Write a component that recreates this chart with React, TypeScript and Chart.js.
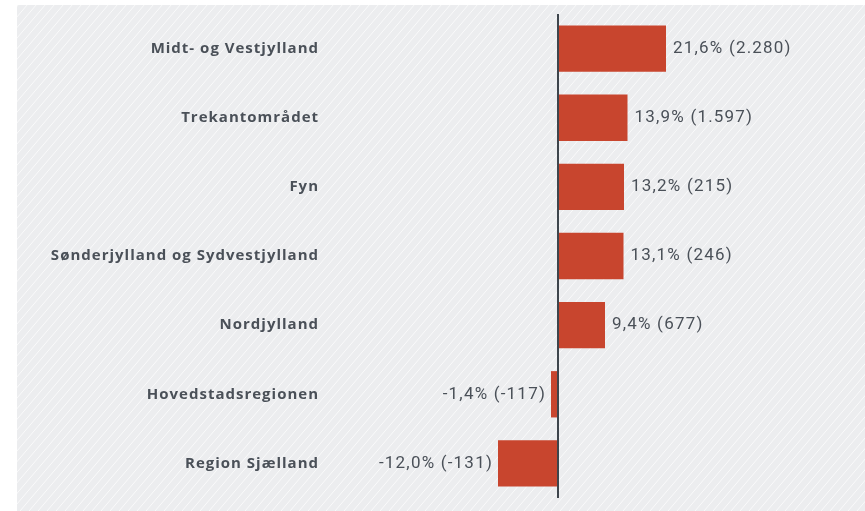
import React, { useEffect, useRef } from "react";
import { Chart, registerables } from "chart.js";

Chart.register(...registerables);

const categories = [
  "Midt- og Vestjylland",
  "Trekantområdet",
  "Fyn",
  "Sønderjylland og Sydvestjylland",
  "Nordjylland",
  "Hovedstadsregionen",
  "Region Sjælland",
];
const percentValues = [21.6, 13.9, 13.2, 13.1, 9.4, -1.4, -12.0];
const countValues = ["2.280", "1.597", "215", "246", "677", "-117", "-131"];

const BAR_COLOR = "#C8452E";
const TEXT_COLOR = "#4A5058";
const AXIS_COLOR = "#3E454C";

const hatchPlugin = {
  id: "hatchBg",
  beforeDraw(chart: any) {
    const { ctx, width, height } = chart;
    const x0 = 17, y0 = 5;
    ctx.save();
    ctx.fillStyle = "#ECEDEF";
    ctx.fillRect(x0, y0, width - x0, height - y0);
    ctx.beginPath();
    ctx.rect(x0, y0, width - x0, height - y0);
    ctx.clip();
    ctx.strokeStyle = "rgba(255,255,255,0.7)";
    ctx.lineWidth = 1;
    const step = 9;
    for (let s = -height; s < width + height; s += step) {
      ctx.beginPath();
      ctx.moveTo(s, height);
      ctx.lineTo(s + height * 0.85, 0);
      ctx.stroke();
    }
    ctx.restore();
    // letter spacing for the category axis labels
    ctx.letterSpacing = "1px";
  },
  beforeDatasetsDraw(chart: any) {
    chart.ctx.letterSpacing = "0px";
  },
};

const valueLabelPlugin = {
  id: "valueLabels",
  afterDatasetsDraw(chart: any) {
    const { ctx } = chart;
    const meta = chart.getDatasetMeta(0);
    ctx.save();
    ctx.font = "17px Roboto";
    ctx.letterSpacing = "1.2px";
    ctx.fillStyle = TEXT_COLOR;
    ctx.textBaseline = "middle";
    meta.data.forEach((bar: any, i: number) => {
      const v = percentValues[i];
      const text = `${v.toFixed(1).replace(".", ",")}% (${countValues[i]})`;
      if (v >= 0) {
        ctx.textAlign = "left";
        ctx.fillText(text, bar.x + 7, bar.y);
      } else {
        ctx.textAlign = "right";
        ctx.fillText(text, bar.x - 5, bar.y);
      }
    });
    ctx.letterSpacing = "0px";
    ctx.restore();
  },
};

export default function App() {
  const ref = useRef<HTMLCanvasElement>(null);
  useEffect(() => {
    if (!ref.current) return;
    const chart = new Chart(ref.current, {
      type: "bar",
      data: {
        labels: categories,
        datasets: [
          {
            data: percentValues,
            backgroundColor: BAR_COLOR,
            borderWidth: 0,
            categoryPercentage: 0.67,
            barPercentage: 1,
          },
        ],
      },
      options: {
        indexAxis: "y",
        animation: false,
        responsive: false,
        maintainAspectRatio: false,
        layout: { padding: { top: 14, bottom: 13, left: 0, right: 17 } },
        plugins: { legend: { display: false }, tooltip: { enabled: false } },
        scales: {
          x: {
            min: -48,
            max: 58,
            ticks: { display: false, stepSize: 2 },
            border: { display: false },
            grid: {
              drawTicks: false,
              lineWidth: 2,
              color: (c: any) => (c.tick && c.tick.value === 0 ? AXIS_COLOR : "rgba(0,0,0,0)"),
            },
            afterFit: (s: any) => {
              s.height = 0;
            },
          },
          y: {
            ticks: {
              padding: -1,
              color: TEXT_COLOR,
              font: { family: "'Open Sans'", size: 15, weight: "bold" },
            },
            grid: { display: false, drawTicks: false },
            border: { display: false },
            afterFit: (s: any) => {
              s.width = 318;
            },
          },
        },
      },
      plugins: [hatchPlugin, valueLabelPlugin],
    });
    return () => chart.destroy();
  }, []);
  return (
    <div style={{ position: "absolute", left: 0, top: 0, width: 865, height: 511 }}>
      <canvas ref={ref} width={865} height={511} style={{ display: "block" }} />
    </div>
  );
}
